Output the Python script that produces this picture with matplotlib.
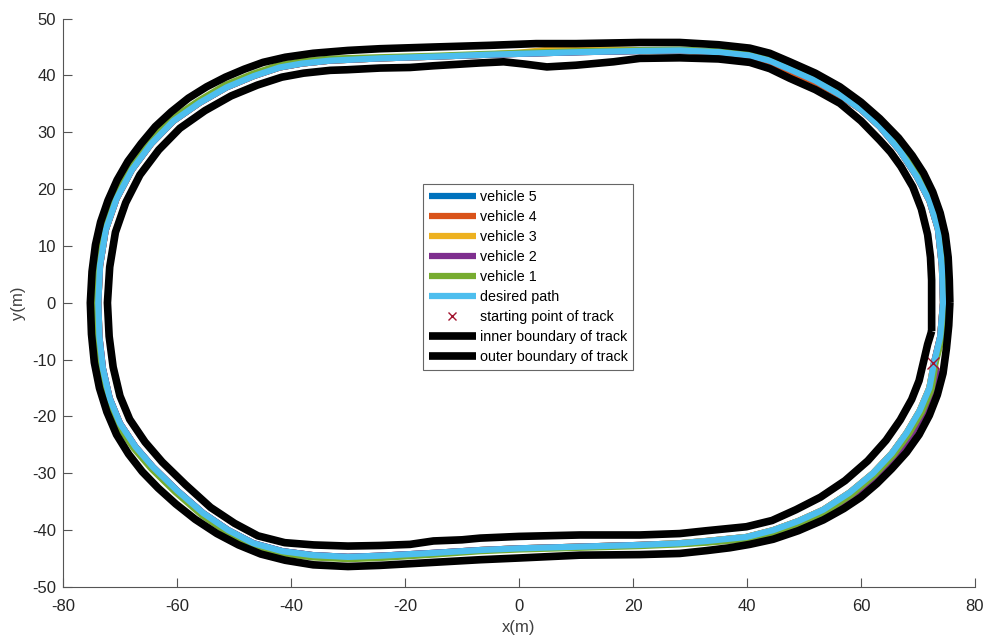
#!/usr/bin/env python3
"""
Track following plot: five vehicles against the desired path and track boundaries.
"""
import matplotlib
matplotlib.use('Agg')
import matplotlib.pyplot as plt

plt.rcParams['font.family'] = ['Liberation Sans', 'DejaVu Sans']
plt.rcParams['axes.unicode_minus'] = False

# Desired path (m)
path_x = [72.8, 73.9, 74.4, 74.2, 73.5, 72.0, 69.8, 66.8, 63.3, 60.0, 56.3, 52.0, 47.5, 44.0,
          40.5, 35.0, 28.2, 21.2, 10.7, 0.0, -6.8, -15.0, -24.4, -33.2, -38.0, -42.0, -46.5,
          -51.3, -56.0, -60.6, -64.5, -67.9, -70.6, -72.5, -73.5, -73.8, -73.6, -73.0, -71.8,
          -70.0, -67.3, -64.2, -60.0, -55.4, -51.0, -46.6, -41.5, -36.1, -30.0, -24.4, -15.0,
          -6.8, 0.0, 10.7, 21.2, 28.2, 33.0, 39.9, 44.6, 49.0, 53.4, 58.0, 62.1, 65.4, 68.0,
          70.3, 72.0, 72.8]
path_y = [-10.6, -6.0, 0.0, 6.5, 13.0, 18.0, 22.2, 26.8, 31.0, 34.0, 36.6, 39.1, 41.1, 42.6,
          43.5, 44.1, 44.4, 44.3, 44.1, 43.8, 43.6, 43.3, 43.0, 42.6, 42.1, 41.4, 39.9,
          37.9, 35.2, 32.0, 28.0, 23.4, 18.3, 12.8, 6.5, 0.0, -6.0, -11.5, -16.8,
          -21.2, -25.3, -28.9, -33.0, -37.0, -40.0, -42.3, -43.7, -44.4, -44.7, -44.5, -44.0,
          -43.5, -43.2, -42.9, -42.6, -42.3, -41.9, -41.2, -40.0, -38.4, -36.4, -33.4, -30.0, -26.5, -22.9,
          -19.0, -15.0, -10.6]

# Vehicle 1 (runs slightly on the outside of the path)
veh1_x = [73.1, 74.3, 74.8, 74.6, 73.9, 72.4, 70.2, 67.1, 63.6, 60.2, 56.5, 52.2, 47.7, 44.1,
          40.6, 35.0, 28.2, 21.2, 10.7, 0.0, -6.8, -15.0, -24.4, -33.3, -38.1, -42.2, -46.7,
          -51.6, -56.3, -61.0, -64.9, -68.3, -71.0, -72.9, -73.9, -74.2, -74.0, -73.4, -72.2,
          -70.4, -67.6, -64.5, -60.3, -55.6, -51.2, -46.7, -41.6, -36.1, -30.0, -24.4, -15.0,
          -6.8, 0.0, 10.7, 21.2, 28.2, 33.0, 39.9, 44.7, 49.2, 53.7, 58.3, 62.4, 65.7, 68.4,
          70.7, 72.4, 73.1]
veh1_y = [-10.5, -6.0, 0.0, 6.6, 13.2, 18.3, 22.5, 27.1, 31.3, 34.4, 37.0, 39.5, 41.5, 43.0,
          43.8, 44.25, 44.55, 44.45, 44.25, 43.95, 43.75, 43.45, 43.2, 42.95, 42.5, 41.8, 40.3,
          38.3, 35.5, 32.3, 28.2, 23.6, 18.5, 12.9, 6.5, 0.0, -6.0, -11.6, -17.0,
          -21.5, -25.6, -29.2, -33.3, -37.4, -40.4, -42.7, -44.1, -44.8, -45.1, -44.9, -44.3,
          -43.7, -43.4, -43.1, -42.8, -42.5, -42.2, -41.6, -40.4, -38.8, -36.8, -33.8, -30.3, -26.8, -23.1,
          -19.2, -15.2, -10.5]

# Vehicle 2 (drifts outward after the start)
veh2_x = [72.8, 73.9, 74.4, 74.2, 73.5, 72.0, 69.8, 66.8, 63.3, 60.0, 56.3, 52.0, 47.5, 44.0,
          40.5, 35.0, 28.2, 21.2, 10.7, 0.0, -6.8, -15.0, -24.4, -33.2, -38.0, -42.0, -46.5,
          -51.3, -56.0, -60.6, -64.5, -67.9, -70.6, -72.5, -73.5, -73.8, -73.6, -73.0, -71.8,
          -70.0, -67.3, -64.2, -60.0, -55.4, -51.0, -46.6, -41.5, -36.1, -30.0, -24.4, -15.0,
          -6.8, 0.0, 10.7, 21.2, 28.2, 33.0, 39.9, 44.7, 49.2, 53.8, 58.5, 62.7, 66.0, 68.7,
          71.0, 72.8, 73.4, 72.8]
veh2_y = [-10.6, -6.0, 0.0, 6.5, 13.0, 18.0, 22.2, 26.8, 31.0, 34.0, 36.6, 39.1, 41.1, 42.6,
          43.5, 44.1, 44.4, 44.3, 44.1, 43.8, 43.6, 43.3, 43.0, 42.6, 42.1, 41.4, 39.9,
          37.9, 35.2, 32.0, 28.0, 23.4, 18.3, 12.8, 6.5, 0.0, -6.0, -11.5, -16.8,
          -21.2, -25.3, -28.9, -33.0, -37.0, -40.0, -42.3, -43.7, -44.4, -44.7, -44.5, -44.0,
          -43.5, -43.2, -42.9, -42.6, -42.4, -42.1, -41.6, -40.6, -39.0, -37.0, -34.0, -30.6, -27.1, -23.4,
          -19.4, -15.4, -12.5, -10.6]

# Vehicle 3 (slightly high on the top straight)
veh3_x = [72.8, 73.9, 74.4, 74.2, 73.5, 72.0, 69.8, 66.8, 63.3, 60.0, 56.3, 52.0, 47.5, 44.0,
          40.5, 35.0, 28.2, 21.2, 15.0, 10.7, 5.0, 0.0, -6.8, -15.0, -24.4, -33.2, -38.0, -42.0, -46.5,
          -51.3, -56.0, -60.6, -64.5, -67.9, -70.6, -72.5, -73.5, -73.8, -73.6, -73.1, -71.9,
          -70.2, -67.5, -64.4, -60.2, -55.5, -51.1, -46.6, -41.5, -36.1, -30.0, -24.4, -15.0,
          -6.8, 0.0, 10.7, 21.2, 28.2, 33.0, 39.9, 44.6, 49.0, 53.4, 58.0, 62.1, 65.4, 68.0,
          70.3, 72.0, 72.8]
veh3_y = [-10.6, -6.0, 0.0, 6.5, 13.0, 18.0, 22.2, 26.8, 31.0, 34.0, 36.6, 39.1, 41.1, 42.6,
          43.5, 44.1, 44.4, 44.45, 44.6, 44.65, 44.5, 44.0, 43.6, 43.3, 43.0, 42.6, 42.1, 41.4, 39.9,
          37.9, 35.2, 32.0, 28.0, 23.4, 18.3, 12.8, 6.5, 0.0, -6.0, -11.6, -17.0,
          -21.4, -25.5, -29.1, -33.2, -37.2, -40.2, -42.5, -43.9, -44.6, -44.9, -44.7, -44.1,
          -43.5, -43.2, -42.9, -42.6, -42.3, -41.9, -41.2, -40.0, -38.4, -36.4, -33.4, -30.0, -26.5, -22.9,
          -19.0, -15.0, -10.6]

# Vehicle 4 (cuts slightly inside on the top-right corner)
veh4_x = [72.8, 73.9, 74.4, 74.2, 73.5, 72.0, 69.8, 66.8, 63.3, 60.0, 56.3, 52.0, 47.4, 43.9,
          40.4, 35.0, 28.2, 21.2, 10.7, 0.0, -6.8, -15.0, -24.4, -33.2, -38.0, -42.0, -46.5,
          -51.3, -56.0, -60.6, -64.5, -67.9, -70.6, -72.5, -73.5, -73.8, -73.6, -73.0, -71.8,
          -70.0, -67.3, -64.2, -60.0, -55.4, -51.0, -46.6, -41.5, -36.1, -30.0, -24.4, -15.0,
          -6.8, 0.0, 10.7, 21.2, 28.2, 33.0, 39.9, 44.6, 49.0, 53.4, 58.0, 62.1, 65.4, 68.0,
          70.3, 72.0, 72.8]
veh4_y = [-10.6, -6.0, 0.0, 6.5, 13.0, 18.0, 22.2, 26.8, 31.0, 34.0, 36.4, 38.8, 40.6, 42.1,
          43.2, 44.0, 44.4, 44.3, 44.1, 43.8, 43.6, 43.3, 43.0, 42.6, 42.1, 41.4, 39.9,
          37.9, 35.2, 32.0, 28.0, 23.4, 18.3, 12.8, 6.5, 0.0, -6.0, -11.5, -16.8,
          -21.2, -25.3, -28.9, -33.0, -37.0, -40.0, -42.3, -43.7, -44.4, -44.7, -44.5, -44.0,
          -43.5, -43.2, -42.9, -42.6, -42.3, -41.9, -41.2, -40.0, -38.4, -36.4, -33.4, -30.0, -26.5, -22.9,
          -19.0, -15.0, -10.6]

# Vehicle 5 (stays on the path)
veh5_x = [72.8, 73.9, 74.4, 74.2, 73.5, 72.0, 69.8, 66.8, 63.3, 60.0, 56.3, 52.0, 47.5, 44.0,
          40.5, 35.0, 28.2, 21.2, 10.7, 0.0, -6.8, -15.0, -24.4, -33.2, -38.0, -42.0, -46.5,
          -51.3, -56.0, -60.6, -64.5, -67.9, -70.6, -72.5, -73.5, -73.8, -73.6, -73.0, -71.8,
          -70.0, -67.3, -64.2, -60.0, -55.4, -51.0, -46.6, -41.5, -36.1, -30.0, -24.4, -15.0,
          -6.8, 0.0, 10.7, 21.2, 28.2, 33.0, 39.9, 44.6, 49.0, 53.4, 58.0, 62.1, 65.4, 68.0,
          70.3, 72.0, 72.8]
veh5_y = [-10.6, -6.0, 0.0, 6.5, 13.0, 18.0, 22.2, 26.8, 31.0, 34.0, 36.6, 39.1, 41.1, 42.6,
          43.5, 44.1, 44.4, 44.3, 44.1, 43.8, 43.6, 43.3, 43.0, 42.6, 42.1, 41.4, 39.9,
          37.9, 35.2, 32.0, 28.0, 23.4, 18.3, 12.8, 6.5, 0.0, -6.0, -11.5, -16.8,
          -21.2, -25.3, -28.9, -33.0, -37.0, -40.0, -42.3, -43.7, -44.4, -44.7, -44.5, -44.0,
          -43.5, -43.2, -42.9, -42.6, -42.3, -41.9, -41.2, -40.0, -38.4, -36.4, -33.4, -30.0, -26.5, -22.9,
          -19.0, -15.0, -10.6]

# Inner boundary of the track
inner_x = [72.4, 72.4, 72.4, 72.2, 71.7, 70.6, 69.1, 67.0, 65.2, 63.3, 60.0, 56.3, 52.0, 47.5,
           44.0, 40.5, 35.0, 28.2, 21.2, 16.6, 10.0, 4.9, 1.0, -2.7, -6.8, -15.0, -19.1, -24.4,
           -30.2, -33.1, -37.8, -41.6, -45.9, -50.5, -55.1, -59.5, -63.2, -66.5, -69.0, -70.8,
           -71.8, -72.2, -71.9, -71.2, -70.0, -68.3, -65.6, -62.6, -58.5, -54.1, -49.9, -45.8,
           -41.1, -36.0, -30.0, -24.4, -19.1, -15.0, -10.0, -6.8, 0.0, 10.7, 21.2, 28.2, 32.9,
           39.9, 44.4, 48.6, 52.9, 57.2, 61.2, 64.4, 66.9, 68.9, 70.2, 71.0, 71.7, 72.4]
inner_y = [-5.0, 0.0, 4.0, 8.0, 12.0, 16.5, 20.4, 24.0, 26.5, 28.6, 32.0, 35.1, 37.5, 39.5,
           41.2, 42.3, 42.9, 43.1, 43.0, 42.4, 41.8, 41.5, 42.0, 42.4, 42.2, 41.7, 41.4, 41.3,
           41.0, 40.9, 40.4, 39.7, 38.3, 36.4, 33.8, 30.7, 26.9, 22.5, 17.6, 12.4,
           6.3, 0.0, -5.9, -11.3, -16.4, -20.5, -24.5, -28.0, -32.0, -36.0, -38.8, -41.0,
           -42.2, -42.6, -42.8, -42.7, -42.5, -41.9, -41.7, -41.4, -41.1, -40.85, -40.85, -40.6, -40.1,
           -39.4, -38.3, -36.4, -34.2, -31.3, -27.8, -24.2, -20.6, -17.0, -13.7, -10.3, -7.3, -5.0]

# Outer boundary of the track
outer_x = [75.6, 75.5, 75.3, 74.8, 73.9, 72.6, 71.0, 69.0, 66.6, 63.3, 60.0, 56.3, 52.0, 47.5,
           44.0, 40.5, 35.0, 28.2, 21.2, 10.0, 3.0, -5.0, -15.0, -24.4, -30.0, -36.1, -41.0,
           -44.9, -48.2, -51.5, -54.8, -58.0, -61.0, -63.8, -66.3, -68.6, -70.5, -72.1, -73.4,
           -74.3, -74.9, -75.2, -75.0, -74.5, -73.6, -72.3, -70.6, -68.5, -66.1, -63.3, -60.2,
           -56.8, -53.0, -49.2, -45.3, -41.0, -36.1, -30.0, -24.4, -19.1, -6.8, 0.0, 10.7, 21.2,
           28.2, 32.9, 37.0, 40.5, 44.6, 49.0, 53.4, 57.0, 60.0, 62.8, 65.4, 68.0, 70.2, 72.0,
           73.4, 74.4, 75.0, 75.4, 75.6]
outer_y = [0.0, 4.0, 8.0, 12.0, 15.8, 19.5, 22.8, 25.9, 29.0, 32.4, 35.3, 38.0, 40.4, 42.4,
           43.9, 44.8, 45.4, 45.8, 45.8, 45.6, 45.6, 45.3, 45.0, 44.7, 44.4, 43.9, 43.2,
           42.3, 41.1, 39.7, 38.0, 36.0, 33.6, 31.0, 28.0, 24.9, 21.6, 18.0, 14.2,
           10.2, 5.5, 0.0, -5.5, -10.5, -15.0, -19.2, -23.2, -26.6, -29.7, -32.6, -35.4,
           -38.1, -40.6, -42.6, -44.2, -45.3, -46.1, -46.4, -46.2, -45.9, -45.2, -44.9, -44.4, -44.3,
           -44.1, -43.6, -43.1, -42.5, -41.6, -40.1, -38.2, -36.2, -34.2, -31.8, -29.2, -26.3, -23.2, -19.8,
           -16.2, -12.4, -8.0, -4.0, 0.0]

# Starting point of the track
start_x = [72.6]
start_y = [-10.6]

VEHICLES = [
    ('vehicle 5', veh5_x, veh5_y, '#0072BD'),
    ('vehicle 4', veh4_x, veh4_y, '#D95319'),
    ('vehicle 3', veh3_x, veh3_y, '#EDB120'),
    ('vehicle 2', veh2_x, veh2_y, '#7E2F8E'),
    ('vehicle 1', veh1_x, veh1_y, '#77AC30'),
]


def make_plot():
    fig = plt.figure(figsize=(9.84, 6.37), dpi=100)
    ax = fig.add_axes([0.064, 0.0785, 0.9268, 0.8923])

    line_kw = dict(solid_joinstyle='round', solid_capstyle='butt')
    for label, xs, ys, color in VEHICLES:
        ax.plot(xs, ys, color=color, lw=4.5, label=label, **line_kw)
    ax.plot(path_x, path_y, color='#4DBEEE', lw=4.5, label='desired path', **line_kw)
    ax.plot(start_x, start_y, 'x', color='#A2142F', ms=9, mew=1.0,
            label='starting point of track')
    ax.plot(inner_x, inner_y, color='black', lw=5.5, label='inner boundary of track', **line_kw)
    ax.plot(outer_x, outer_y, color='black', lw=5.5, label='outer boundary of track', **line_kw)

    ax.set_xlim(-80, 80)
    ax.set_ylim(-50, 50)
    ax.set_xticks(range(-80, 81, 20))
    ax.set_yticks(range(-50, 51, 10))
    ax.set_xlabel('x(m)', fontsize=12, color='#404040', labelpad=4)
    ax.set_ylabel('y(m)', fontsize=12, color='#404040', labelpad=4)

    for side in ('top', 'right'):
        ax.spines[side].set_visible(False)
    for side in ('left', 'bottom'):
        ax.spines[side].set_color('#555555')
        ax.spines[side].set_linewidth(0.8)
    ax.tick_params(direction='in', length=6.5, width=0.8, color='#555555',
                   labelsize=12, labelcolor='#262626', pad=5)
    ax.tick_params(axis='x', pad=9)

    leg = ax.legend(loc='upper left', bbox_to_anchor=(423 / 984, 1 - 184 / 637),
                    bbox_transform=fig.transFigure, borderaxespad=0, fontsize=10.3,
                    handlelength=3.3, handletextpad=0.25, labelspacing=0.42,
                    borderpad=0.4, fancybox=False, framealpha=1, markerscale=0.7)
    leg.get_frame().set_edgecolor('#666666')
    leg.get_frame().set_linewidth(0.8)

    fig.savefig('out.png', dpi=100)


if __name__ == '__main__':
    make_plot()
